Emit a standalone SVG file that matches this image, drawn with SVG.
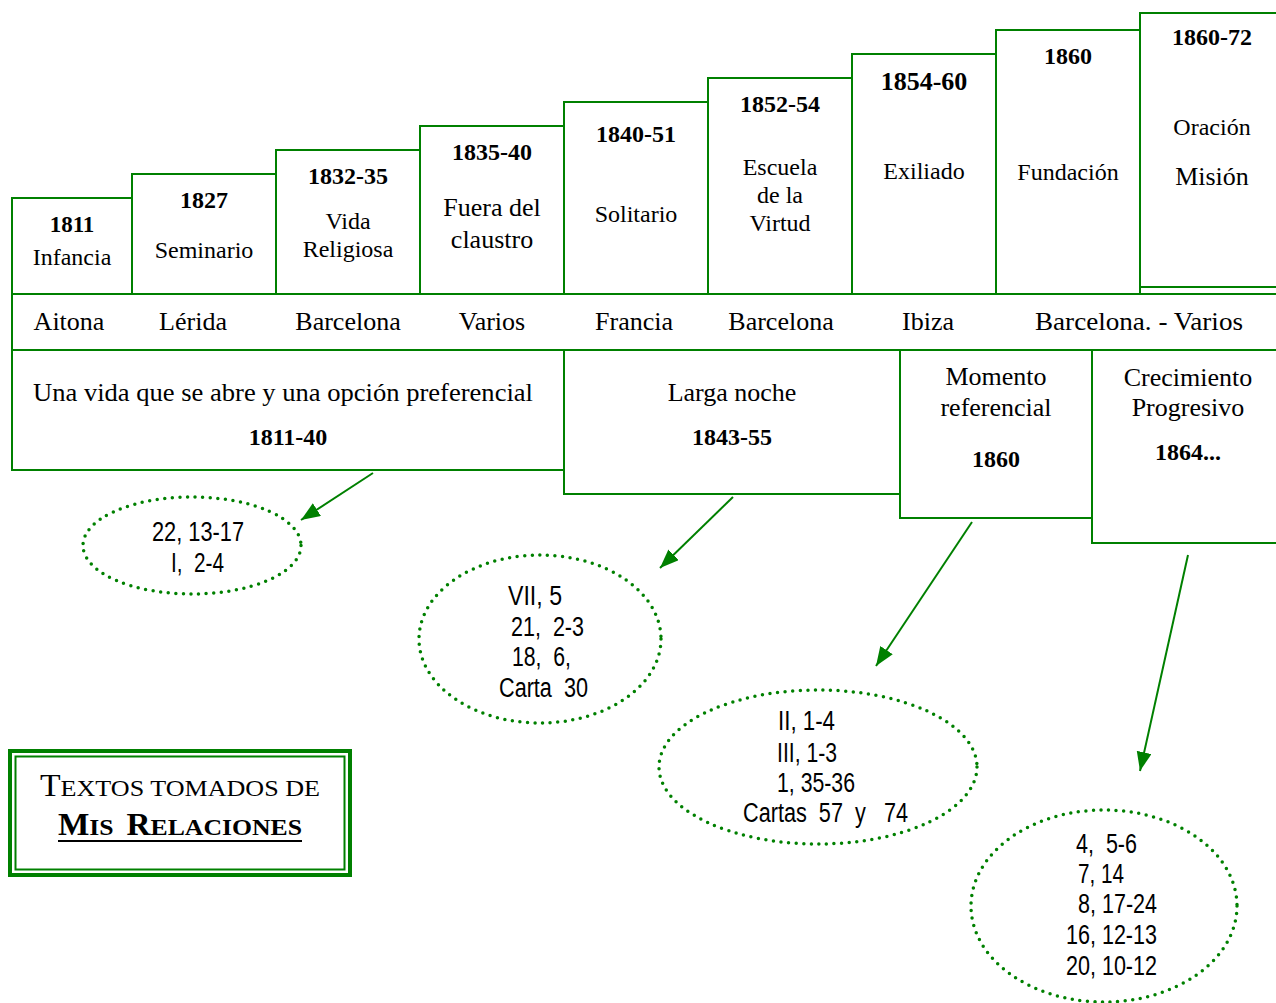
<svg xmlns="http://www.w3.org/2000/svg" width="1276" height="1003" viewBox="0 0 1276 1003">
<style>
.box{fill:#fff;stroke:#008000;stroke-width:2}
.ln{stroke:#008000;stroke-width:2;fill:none}
.s{font-family:"Liberation Serif","Times New Roman",serif;fill:#000;text-anchor:middle}
.y{font-weight:bold;font-size:24px}
.l{font-size:24px}
.c{font-size:26px}
.el{fill:none;stroke:#008000;stroke-width:3.5;stroke-dasharray:0 7.6;stroke-linecap:round}
.n{font-family:"Liberation Sans Narrow","Liberation Sans",Arial,sans-serif;font-size:27px;fill:#000;white-space:pre}
.arr{stroke:#008000;stroke-width:2;fill:none;marker-end:url(#ah)}
</style>
<defs>
<marker id="ah" markerUnits="userSpaceOnUse" markerWidth="20" markerHeight="16" refX="19" refY="7.5" orient="auto">
<path d="M0,0 L19,7.5 L0,15 z" fill="#008000"/>
</marker>
</defs>
<rect width="1276" height="1003" fill="#fff"/>

<g id="b1811"><rect class="box" x="12" y="198" width="120" height="96"/>
<text class="s y" x="72" y="232" style="font-size:23px">1811</text><text class="s l" x="72" y="265">Infancia</text></g>
<g id="b1827"><rect class="box" x="132" y="174" width="144" height="120"/>
<text class="s y" x="204" y="208">1827</text><text class="s l" x="204" y="258">Seminario</text></g>
<g id="b1832"><rect class="box" x="276" y="150" width="144" height="144"/>
<text class="s y" x="348" y="184">1832-35</text><text class="s l" x="348" y="229">Vida</text><text class="s l" x="348" y="257">Religiosa</text></g>
<g id="b1835"><rect class="box" x="420" y="126" width="144" height="168"/>
<text class="s y" x="492" y="160">1835-40</text><text class="s c" x="492" y="216">Fuera del</text><text class="s c" x="492" y="248">claustro</text></g>
<g id="b1840"><rect class="box" x="564" y="102" width="144" height="192"/>
<text class="s y" x="636" y="142">1840-51</text><text class="s l" x="636" y="222">Solitario</text></g>
<g id="b1852"><rect class="box" x="708" y="78" width="144" height="216"/>
<text class="s y" x="780" y="112">1852-54</text><text class="s l" x="780" y="175">Escuela</text><text class="s l" x="780" y="203">de la</text><text class="s l" x="780" y="231">Virtud</text></g>
<g id="b1854"><rect class="box" x="852" y="54" width="144" height="240"/>
<text class="s y" x="924" y="90" style="font-size:26px">1854-60</text><text class="s l" x="924" y="179">Exiliado</text></g>
<g id="b1860"><rect class="box" x="996" y="30" width="144" height="264"/>
<text class="s y" x="1068" y="64">1860</text><text class="s l" x="1068" y="180">Fundación</text></g>
<g id="b1860-72"><rect class="box" x="1140" y="13" width="150" height="274"/>
<text class="s y" x="1212" y="45">1860-72</text><text class="s l" x="1212" y="135">Oración</text><text class="s c" x="1212" y="185">Misión</text></g>

<g id="places">
<line class="ln" x1="12" y1="294" x2="1276" y2="294"/>
<line class="ln" x1="12" y1="350" x2="1276" y2="350"/>
<line class="ln" x1="12" y1="293" x2="12" y2="351"/>
<text class="s c" x="69" y="330">Aitona</text>
<text class="s c" x="193" y="330">Lérida</text>
<text class="s c" x="348" y="330">Barcelona</text>
<text class="s c" x="492" y="330">Varios</text>
<text class="s c" x="634" y="330">Francia</text>
<text class="s c" x="781" y="330">Barcelona</text>
<text class="s c" x="928" y="330">Ibiza</text>
<text class="s c" x="1139" y="330" textLength="208" lengthAdjust="spacingAndGlyphs">Barcelona. - Varios</text>
</g>

<g id="pA"><rect class="box" x="12" y="350" width="552" height="120"/>
<text class="s c" x="283" y="401" textLength="500" lengthAdjust="spacingAndGlyphs">Una vida que se abre y una opción preferencial</text>
<text class="s y" x="288" y="445">1811-40</text></g>
<g id="pB"><rect class="box" x="564" y="350" width="336" height="144"/>
<text class="s c" x="732" y="401">Larga noche</text>
<text class="s y" x="732" y="445">1843-55</text></g>
<g id="pC"><rect class="box" x="900" y="350" width="192" height="168"/>
<text class="s c" x="996" y="385">Momento</text>
<text class="s c" x="996" y="416">referencial</text>
<text class="s y" x="996" y="467">1860</text></g>
<g id="pD"><rect class="box" x="1092" y="350" width="200" height="193"/>
<text class="s c" x="1188" y="386">Crecimiento</text>
<text class="s c" x="1188" y="416">Progresivo</text>
<text class="s y" x="1188" y="460">1864...</text></g>

<g id="connectors">
<line class="arr" x1="373" y1="473" x2="301" y2="520"/>
<line class="arr" x1="733" y1="497" x2="660" y2="568"/>
<line class="arr" x1="972" y1="522" x2="876" y2="666"/>
<line class="arr" x1="1188" y1="555" x2="1140" y2="771"/>
</g>

<g id="e1"><ellipse class="el" cx="192" cy="545.5" rx="109" ry="48.5"/>
<text class="n" x="152" y="541" textLength="92" lengthAdjust="spacingAndGlyphs">22, 13-17</text>
<text class="n" x="171" y="572" textLength="53" lengthAdjust="spacingAndGlyphs">I,  2-4</text></g>
<g id="e2"><ellipse class="el" cx="540" cy="639" rx="121" ry="84"/>
<text class="n" x="508" y="605" textLength="54" lengthAdjust="spacingAndGlyphs">VII, 5</text>
<text class="n" x="511" y="636" textLength="73" lengthAdjust="spacingAndGlyphs">21,  2-3</text>
<text class="n" x="512" y="666" textLength="59" lengthAdjust="spacingAndGlyphs">18,  6,</text>
<text class="n" x="499" y="697" textLength="89" lengthAdjust="spacingAndGlyphs">Carta  30</text></g>
<g id="e3"><ellipse class="el" cx="818" cy="767" rx="159" ry="77"/>
<text class="n" x="778" y="730" textLength="57" lengthAdjust="spacingAndGlyphs">II, 1-4</text>
<text class="n" x="777" y="762" textLength="60" lengthAdjust="spacingAndGlyphs">III, 1-3</text>
<text class="n" x="777" y="792" textLength="78" lengthAdjust="spacingAndGlyphs">1, 35-36</text>
<text class="n" x="743" y="822" textLength="165" lengthAdjust="spacingAndGlyphs">Cartas  57  y   74</text></g>
<g id="e4"><ellipse class="el" cx="1104" cy="906" rx="133" ry="96"/>
<text class="n" x="1076" y="853" textLength="61" lengthAdjust="spacingAndGlyphs">4,  5-6</text>
<text class="n" x="1078" y="883" textLength="46" lengthAdjust="spacingAndGlyphs">7, 14</text>
<text class="n" x="1078" y="913" textLength="79" lengthAdjust="spacingAndGlyphs">8, 17-24</text>
<text class="n" x="1066" y="944" textLength="91" lengthAdjust="spacingAndGlyphs">16, 12-13</text>
<text class="n" x="1066" y="975" textLength="91" lengthAdjust="spacingAndGlyphs">20, 10-12</text></g>

<g id="legend">
<rect x="10" y="751" width="340" height="124" fill="#fff" stroke="#008000" stroke-width="4"/>
<rect x="15.5" y="756.5" width="329" height="113" fill="none" stroke="#008000" stroke-width="2"/>
<text x="40" y="796" font-family="Liberation Serif, serif" fill="#000" textLength="280" lengthAdjust="spacingAndGlyphs"><tspan font-size="31">T</tspan><tspan font-size="24">EXTOS TOMADOS DE</tspan></text>
<text x="58" y="835" font-family="Liberation Serif, serif" font-weight="bold" fill="#000" style="white-space:pre" textLength="244" lengthAdjust="spacingAndGlyphs"><tspan font-size="31">M</tspan><tspan font-size="24">IS  </tspan><tspan font-size="31">R</tspan><tspan font-size="24">ELACIONES</tspan></text>
<line x1="58" y1="841" x2="302" y2="841" stroke="#000" stroke-width="2"/>
</g>
</svg>
